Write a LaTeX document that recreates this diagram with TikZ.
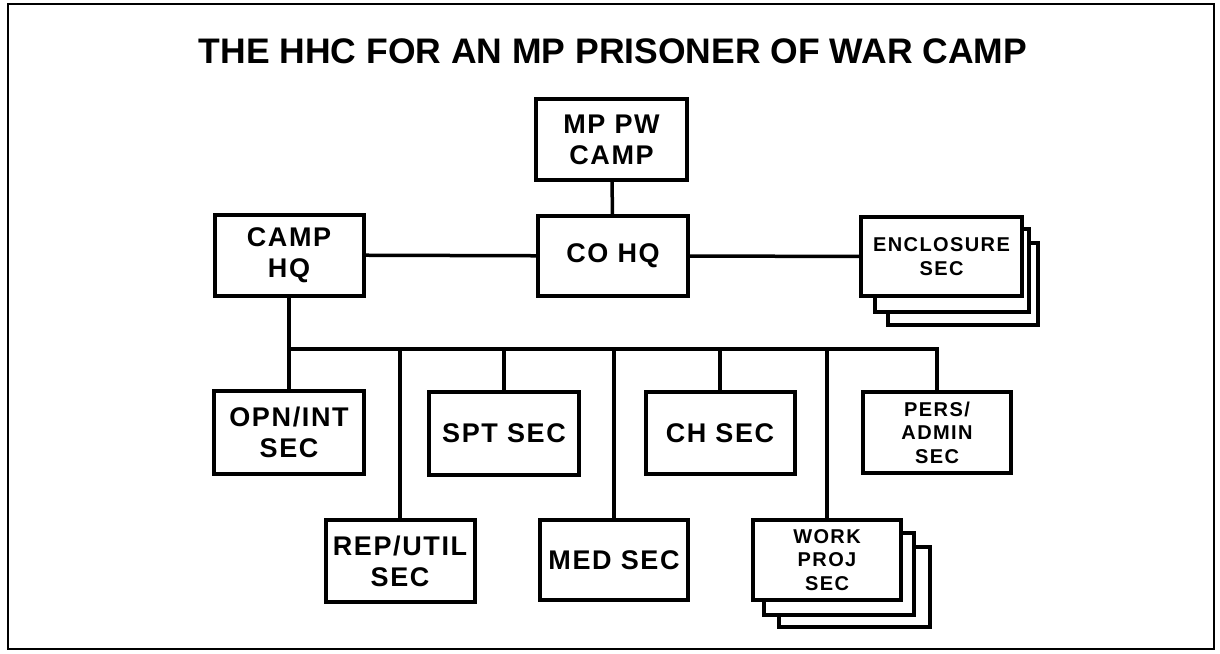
\documentclass[tikz,border=0pt]{standalone}
\usepackage{fontspec}
\setmainfont{Liberation Sans}
\begin{document}
\begin{tikzpicture}[x=1pt,y=-1pt,
  box/.style={draw,line width=4pt,fill=white,rectangle,inner sep=0pt,align=center,
    font=\fontsize{27}{31}\selectfont\bfseries\addfontfeatures{LetterSpace=6}},
  smallbox/.style={box,font=\fontsize{20}{23.5}\selectfont\bfseries\addfontfeatures{LetterSpace=7}},
  conn/.style={line width=3.5pt},
  backbox/.style={draw,line width=4pt,fill=white}]
\useasboundingbox (0,0) rectangle (1220,653);
\draw[line width=2.5pt] (8,4) rectangle (1214,649);
\node (title) at (613,51) {\fontsize{35.5}{40}\selectfont\bfseries THE HHC FOR AN MP PRISONER OF WAR CAMP};

\node[box,minimum width=151pt,minimum height=81pt] (mp) at (611.5,139.5) {MP PW\\CAMP};
\node[box,minimum width=150pt,minimum height=80pt] (co) at (613,256) {CO HQ};
\node[box,minimum width=149pt,minimum height=81pt] (camp) at (289,255) {CAMP\\HQ};

\draw[backbox] (888,243) rectangle (1038,325);
\draw[backbox] (875,229) rectangle (1029,312);
\node[smallbox,minimum width=161pt,minimum height=79pt] (enc) at (941.5,256.5) {ENCLOSURE\\SEC};

\node[box,minimum width=150pt,minimum height=83pt] (opn) at (289,432.5) {OPN/INT\\SEC};
\node[box,minimum width=149pt,minimum height=82pt] (rep) at (400,561) {REP/UTIL\\SEC};
\node[box,minimum width=150pt,minimum height=83pt] (spt) at (504,433.5) {SPT SEC};
\node[box,minimum width=148pt,minimum height=80pt] (med) at (614,560) {MED SEC};
\node[box,minimum width=149pt,minimum height=82pt] (ch) at (720,433) {CH SEC};
\node[smallbox,minimum width=148pt,minimum height=81pt] (pers) at (937,432.5) {PERS/\\ADMIN\\SEC};

\draw[backbox] (779,547) rectangle (930,627);
\draw[backbox] (764,533) rectangle (914,615);
\node[smallbox,minimum width=148pt,minimum height=80pt] (work) at (827,560) {WORK\\PROJ\\SEC};

\draw[conn] (mp) -- (co);
\draw[conn] (camp) -- (co);
\draw[conn] (co) -- (enc);

\coordinate (busL) at (289,349);
\coordinate (busR) at (937,349);
\draw[conn] (camp.south) -- (opn.north);
\draw[conn,line cap=rect] (busL) -- (busR);
\draw[conn] (rep.north) -- (rep.north |- busL);
\draw[conn] (spt.north) -- (spt.north |- busL);
\draw[conn] (med.north) -- (med.north |- busL);
\draw[conn] (ch.north) -- (ch.north |- busL);
\draw[conn] (work.north) -- (work.north |- busL);
\draw[conn] (pers.north) -- (busR);
\end{tikzpicture}
\end{document}
